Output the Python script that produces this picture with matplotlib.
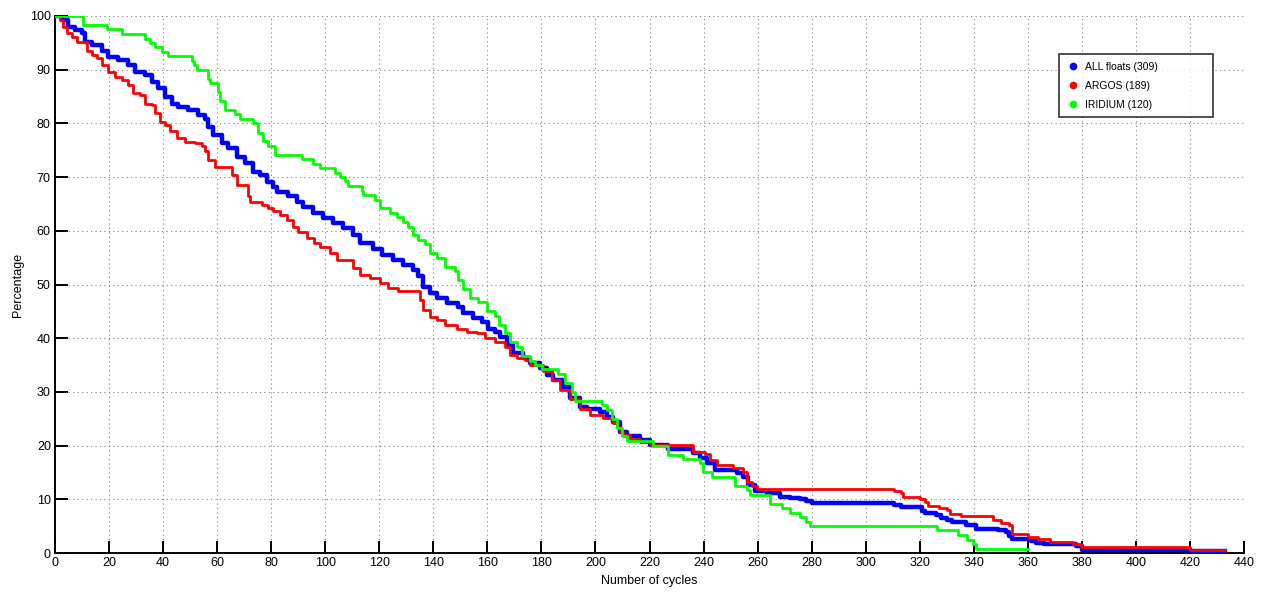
import matplotlib
matplotlib.use("Agg")
import matplotlib.pyplot as plt
from matplotlib.lines import Line2D

plt.rcParams['font.family'] = ['Liberation Sans', 'DejaVu Sans']

# ALL floats (309)
all_x = [0, 2.5, 4.9, 7.4, 9.9, 11.1, 13.6, 17.3, 19.7, 23.4, 27.1, 29.6, 33.3, 35.8, 38.2,
         40.7, 43.2, 45.6, 49.3, 53, 55.5, 56.7, 58.6, 61.7, 64.1, 67.2, 70.3, 73.4, 75.9,
         78.3, 80.8, 82, 86.3, 89.4, 91.9, 95.6, 99.3, 103, 106.7, 110.4, 112.9, 117.8,
         120.9, 125.2, 128.9, 132.6, 134.5, 136.3, 138.8, 141.3, 145, 149.3, 151.1, 154.8,
         157.9, 160.4, 162.8, 164.7, 167.2, 169.6, 173.3, 175.8, 179.5, 182, 184.4, 188.1,
         190.6, 194.3, 196.8, 201.7, 204.2, 206.6, 209.1, 211.6, 216.5, 220.2, 227, 236.2,
         238.7, 241.2, 244.3, 252.5, 254.7, 256.6, 259, 263.4, 268.3, 272, 275.7, 278, 280,
         310.3, 313, 321, 322, 326, 328, 330, 332, 337, 341, 349, 352, 353, 354, 361, 363,
         366, 378, 380, 420, 433]
all_y = [100, 99.3, 98.0, 97.4, 96.8, 95.2, 94.6, 93.4, 92.4, 91.8, 90.9, 89.6, 89.0, 87.8, 86.5,
         85.0, 83.7, 83.1, 82.5, 81.6, 80.9, 79.4, 77.8, 76.4, 75.4, 73.8, 72.6, 71.0, 70.4,
         69.1, 68.2, 67.3, 66.4, 65.4, 64.5, 63.3, 62.3, 61.4, 60.5, 59.2, 57.7, 56.7,
         55.5, 54.6, 53.6, 52.7, 51.5, 49.6, 48.4, 47.4, 46.5, 45.9, 44.6, 43.7,
         43.1, 41.8, 41.2, 40.3, 38.7, 37.2, 36.3, 35.3, 34.4, 33.1, 32.2, 31.0,
         28.9, 27.2, 26.9, 26.2, 25.4, 24.4, 22.6, 21.7, 21.0, 20.1, 19.4, 18.6,
         17.6, 16.7, 15.5, 14.9, 14.2, 12.7, 11.6, 11.1, 10.5, 10.2, 10.0, 9.6, 9.3,
         9.0, 8.6, 7.8, 7.4, 7.0, 6.6, 6.2, 5.8, 5.3, 4.5, 4.2, 3.9, 3.2, 2.6, 2.3, 1.9,
         1.6, 1.3, 0.65, 0.3, 0.3]

# ARGOS (189)
argos_x = [0, 1.9, 3.1, 4.3, 6.2, 8.0, 11.7, 13.6, 15.4, 17.3, 19.7, 22.2, 24.7, 27.1, 29,
           31.5, 33.3, 35.8, 37, 38.9, 40.7, 42.6, 45, 48.1, 51.8, 54.3, 55.5, 56.7, 59.2,
           65.4, 67.2, 71.5, 72.2, 76.5, 78.9, 80.8, 83.3, 85.8, 88.2, 90, 93.1, 96, 98,
           101.8, 104.3, 110.4, 112.9, 116.6, 120.3, 123.4, 127.1, 135.1, 136.3, 138.8,
           141.3, 144.3, 148.7, 152.4, 156.1, 159.1, 162.8, 166.5, 168.4, 170.9, 173.9,
           175.8, 180.7, 183.8, 186.9, 190.6, 194.3, 198, 202.9, 206.6, 208, 209.1, 210.3,
           212.8, 216.5, 220.2, 236.2, 240.6, 242.5, 244.9, 251, 254.7, 256, 257.8, 259.7,
           310.3, 313, 313.7, 320.1, 322, 323.2, 327, 330, 331.2, 335.2, 347.3, 350, 353,
           354.1, 360, 363.8, 368.2, 376.6, 379.6, 420.1, 433]
argos_y = [100, 99.3, 98.0, 96.8, 96.1, 95.2, 93.4, 92.7, 92.1, 90.9, 89.6, 88.7, 88.1, 87.2, 85.6,
           85.3, 83.7, 83.4, 81.9, 80.3, 79.7, 78.5, 77.2, 76.6, 76.3, 75.7, 74.8, 73.2, 71.8,
           70.4, 68.5, 66.4, 65.4, 64.8, 64.2, 63.6, 62.9, 62.0, 60.8, 59.8, 58.6, 57.8, 57.0,
           55.8, 54.6, 53.0, 51.8, 51.2, 50.2, 49.3, 48.7, 47.1, 45.3, 44.0,
           43.4, 42.5, 41.8, 41.2, 40.9, 40.0, 39.3, 38.4, 36.9, 36.4, 35.9,
           35.0, 33.8, 32.2, 30.4, 28.6, 26.9, 25.7, 25.1, 24.2, 23.5, 22.6, 22.0,
           21.2, 20.7, 20.1, 18.9, 18.4, 17.4, 16.3, 15.9, 15.1, 13.3, 12.5, 12.0,
           11.6, 11.1, 10.5, 10.0, 9.5, 8.75, 8.4, 8.0, 7.3, 6.8, 6.1, 5.5, 5.3,
           3.5, 3.0, 2.6, 2.0, 1.6, 1.05, 0.53, 0.53]

# IRIDIUM (120)
irid_x = [0, 10.5, 19.1, 24.7, 33.3, 35.2, 37, 39.5, 41.9, 50.6, 51.5, 52.4, 56.7, 57.4, 60.4,
          61.1, 62.9, 66.6, 68.5, 73.4, 75.3, 77.1, 78.9, 81.4, 91.3, 95.6, 98.1, 103.6,
          105.5, 107.3, 108.6, 113.5, 114.1, 118.4, 120.3, 124, 126.5, 128.9, 130.8, 132.6,
          134.5, 136.9, 138.8, 141.3, 144.3, 148, 149.3, 151.1, 153.6, 156.7, 159.8, 162.8,
          164.4, 166.5, 168.4, 170.9, 172.7, 175.8, 177.6, 180.1, 186.3, 188.7, 191.2, 192.4,
          202.3, 204.2, 206, 207.9, 209.7, 211.6, 221.4, 227, 232.5, 238.7, 239.9, 243, 251.7,
          256, 257.2, 264.6, 268.9, 272, 275.7, 278, 279.5, 326.3, 334.2, 337.4, 339.8,
          340.7, 360]
irid_y = [100, 98.3, 97.5, 96.7, 95.8, 95.0, 94.2, 93.3, 92.5, 91.7, 90.8, 90.0, 88.3, 87.5, 85.8,
          84.2, 82.5, 81.7, 80.8, 80.0, 78.3, 76.7, 75.8, 74.2, 73.3, 72.5, 71.7, 70.8,
          70.0, 69.2, 68.3, 67.5, 66.7, 65.8, 64.2, 63.3, 62.5, 61.7, 60.8, 59.2,
          58.3, 57.5, 55.8, 55.0, 53.3, 52.5, 50.8, 49.2, 47.5, 46.7, 45.0, 44.2,
          42.5, 41.0, 39.2, 38.3, 36.7, 35.8, 35.0, 34.2, 33.3, 31.7, 30.0, 28.3,
          27.5, 26.7, 25.0, 23.3, 21.7, 20.8, 20.0, 18.3, 17.5, 16.7, 15.0, 14.2, 12.5,
          11.7, 10.8, 9.2, 8.3, 7.5, 6.7, 5.8, 5.0, 4.2, 3.3, 2.5, 1.7,
          0.83, 0.83]

labels = ['ALL floats (309)', 'ARGOS (189)', 'IRIDIUM (120)']
colors = ['#0000ff', '#ff0000', '#00ff00']
xticks = list(range(0, 441, 20))
yticks = list(range(0, 101, 10))

fig = plt.figure(figsize=(12.67, 5.92), dpi=100)
ax = fig.add_axes([55/1267, 39/592, 1189/1267, 537/592])

ax.plot(all_x, all_y, drawstyle='steps-post', color=colors[0], lw=3.2, zorder=3)
ax.plot(argos_x, argos_y, drawstyle='steps-post', color=colors[1], lw=2.0, zorder=4)
ax.plot(irid_x, irid_y, drawstyle='steps-post', color=colors[2], lw=2.0, zorder=5)

ax.set_xlim(0, 440)
ax.set_ylim(0, 100)
ax.set_xticks(xticks)
ax.set_yticks(yticks)
ax.tick_params(direction='in', length=9, width=1.4, labelsize=9, pad=3)
for s in ['top', 'right']:
    ax.spines[s].set_visible(False)
for s in ['left', 'bottom']:
    ax.spines[s].set_linewidth(1.4)
ax.grid(True, color='#7f7f7f', linestyle=(0, (1, 3)), linewidth=0.8)
ax.set_axisbelow(True)
ax.set_xlabel('Number of cycles', fontsize=9, labelpad=4)
ax.set_ylabel('Percentage', fontsize=9, labelpad=4)

handles = [Line2D([], [], ls='none', marker='o', markersize=4.5, color=c) for c in colors]
leg = ax.legend(handles, labels, loc='upper left', bbox_to_anchor=(0.844, 0.929, 0.130, 0.0),
                mode='expand', fontsize=7.5, frameon=True, fancybox=False, borderpad=0.75,
                labelspacing=0.85, handletextpad=0.6, handlelength=1.2, borderaxespad=0)
leg.get_frame().set_edgecolor('black')
leg.get_frame().set_linewidth(1.2)

fig.savefig('out.png', dpi=100)
